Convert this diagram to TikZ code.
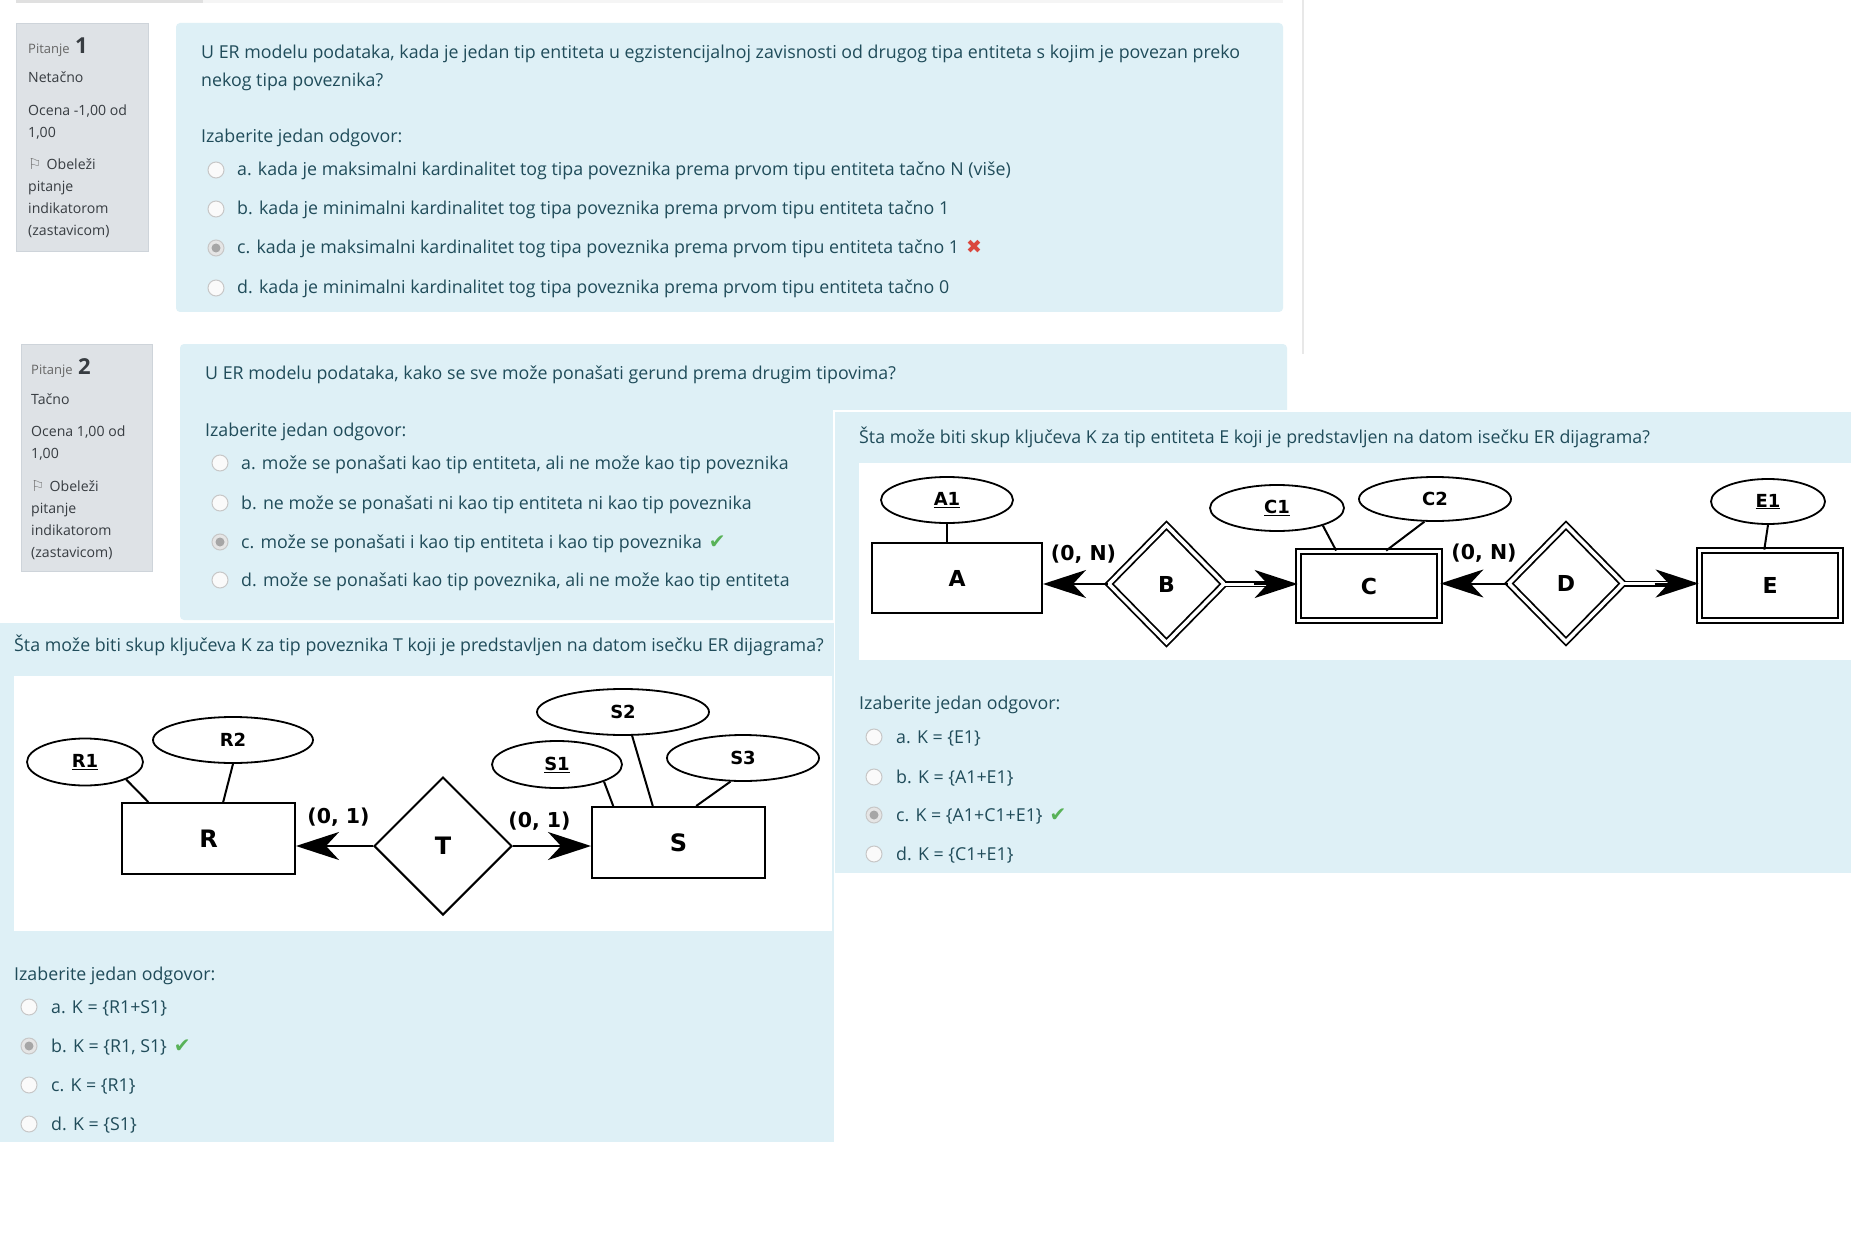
\documentclass[tikz,border=0pt]{standalone}
\usepackage{fontspec}
\setmainfont{Open Sans}
\newfontfamily\erfont{DejaVu Sans}
\newfontfamily\symfont{DejaVu Sans}
\usetikzlibrary{shapes.geometric,arrows.meta,calc}
\definecolor{qbg}{RGB}{222,240,246}
\definecolor{qtext}{RGB}{32,76,90}
\definecolor{infobg}{RGB}{222,226,230}
\definecolor{infoborder}{RGB}{206,212,218}
\definecolor{infotext}{RGB}{55,60,65}
\definecolor{okgreen}{RGB}{88,178,88}
\definecolor{badred}{RGB}{218,72,62}
\tikzset{
 qt/.style={anchor=base west, inner sep=0pt, text=qtext, font=\fontsize{17.8}{20}\selectfont},
 it/.style={anchor=base west, inner sep=0pt, text=infotext, font=\fontsize{14.1}{18}\selectfont},
 rbtn/.style={circle, draw=black!22, fill=black!2, line width=1pt, minimum size=16pt, inner sep=0pt},
 rbtnsel/.style={rbtn, fill=black!10, path picture={\fill[black!35] (path picture bounding box.center) circle[radius=4.5pt];}},
 ent/.style={draw, line width=2pt, fill=white, font=\erfont\bfseries\fontsize{22}{24}\selectfont, inner sep=0pt},
 went/.style={ent, double, double distance=3.5pt, line width=1.8pt},
 attr/.style={ellipse, draw, line width=1.8pt, fill=white, inner sep=0pt, font=\erfont\bfseries\fontsize{18}{20}\selectfont},
 rel/.style={diamond, draw, line width=2pt, fill=white, inner sep=0pt, font=\erfont\bfseries\fontsize{22}{24}\selectfont},
 wrel/.style={rel, double, double distance=3.5pt, line width=1.8pt},
 big/.style={font=\erfont\bfseries\fontsize{24}{26}\selectfont},
 card/.style={font=\erfont\bfseries\fontsize{20.5}{22}\selectfont, inner sep=0pt},
 conn/.style={line width=2pt},
 arr/.style={line width=2pt, -{Stealth[length=43pt,width=28pt,inset=13pt]}},
 dconn/.style={double, double distance=3pt, line width=1.5pt},
}
\newcommand{\qopt}[6]{\node[#5] (#1r) at (#2,#3) {}; \node[qt] (#1t) at (#4,#3+6) {#6};}
\newcommand{\okmark}{\hspace{7pt}{\symfont\color{okgreen}\fontsize{20}{20}\selectfont ✔}}
\newcommand{\badmark}{\hspace{7pt}{\symfont\color{badred}\fontsize{19}{19}\selectfont ✖}}
\newcommand{\flagmark}{{\symfont\color{black!55}\fontsize{15}{15}\selectfont ⚐}}
\begin{document}
\begin{tikzpicture}[x=1pt,y=-1pt]
\useasboundingbox (0,0) rectangle (1851,1238);
\fill[white] (0,0) rectangle (1851,1238);
% page decorations
\fill[black!12] (16,0) rectangle (203,3);
\fill[black!4] (203,0) rectangle (1283,3);
\fill[black!9] (1302,0) rectangle (1304,354);
% question boxes
\filldraw[fill=infobg, draw=infoborder] (16,23) rectangle (148,251);
\fill[qbg, rounded corners=4pt] (176,23) rectangle (1283,312);
\filldraw[fill=infobg, draw=infoborder] (21,344) rectangle (152,571);
\fill[qbg, rounded corners=4pt] (180,344) rectangle (1287,620);
\fill[qbg] (833,410) rectangle (1851,873);
\draw[white, line width=2pt] (834,873) -- (834,411) -- (1851,411);
\fill[white] (859,463) rectangle (1851,660);
\fill[qbg] (0,623) rectangle (834,1142);
\fill[white] (14,676) rectangle (832,931);

% ---------- Q1 sidebar
\node[it, text=black!60, font=\fontsize{13}{15}\selectfont] (p1) at (28,54) {Pitanje};
\node[anchor=base west, inner sep=0pt, text=infotext, font=\bfseries\fontsize{22}{24}\selectfont] (p1n) at ($(p1.base east)+(5,0)$) {1};
\node[it] (s1a) at (28,83) {Netačno};
\node[it] (s1b) at (28,116) {Ocena -1,00 od};
\node[it] (s1c) at (28,138) {1,00};
\node[it] (s1d) at (28,170) {\flagmark\hspace{5pt}Obeleži};
\node[it] (s1e) at (28,192) {pitanje};
\node[it] (s1f) at (28,214) {indikatorom};
\node[it] (s1g) at (28,236) {(zastavicom)};
% ---------- Q1 content
\node[qt] (q1a) at (201,59) {U ER modelu podataka, kada je jedan tip entiteta u egzistencijalnoj zavisnosti od drugog tipa entiteta s kojim je povezan preko};
\node[qt] (q1b) at (201,87) {nekog tipa poveznika?};
\node[qt] (q1c) at (201,143) {Izaberite jedan odgovor:};
\qopt{q1oa}{216}{170}{237}{rbtn}{a. kada je maksimalni kardinalitet tog tipa poveznika prema prvom tipu entiteta tačno N (više)}
\qopt{q1ob}{216}{209}{237}{rbtn}{b. kada je minimalni kardinalitet tog tipa poveznika prema prvom tipu entiteta tačno 1}
\qopt{q1oc}{216}{248}{237}{rbtnsel}{c. kada je maksimalni kardinalitet tog tipa poveznika prema prvom tipu entiteta tačno 1\badmark}
\qopt{q1od}{216}{288}{237}{rbtn}{d. kada je minimalni kardinalitet tog tipa poveznika prema prvom tipu entiteta tačno 0}

% ---------- Q2 sidebar
\node[it, text=black!60, font=\fontsize{13}{15}\selectfont] (p2) at (31,374) {Pitanje};
\node[anchor=base west, inner sep=0pt, text=infotext, font=\bfseries\fontsize{22}{24}\selectfont] (p2n) at ($(p2.base east)+(5,0)$) {2};
\node[it] (s2a) at (31,404) {Tačno};
\node[it] (s2b) at (31,436) {Ocena 1,00 od};
\node[it] (s2c) at (31,458) {1,00};
\node[it] (s2d) at (31,491) {\flagmark\hspace{5pt}Obeleži};
\node[it] (s2e) at (31,513) {pitanje};
\node[it] (s2f) at (31,535) {indikatorom};
\node[it] (s2g) at (31,557) {(zastavicom)};
% ---------- Q2 content
\node[qt] (q2a) at (205,379) {U ER modelu podataka, kako se sve može ponašati gerund prema drugim tipovima?};
\node[qt] (q2c) at (205,436) {Izaberite jedan odgovor:};
\qopt{q2oa}{220}{463}{241}{rbtn}{a. može se ponašati kao tip entiteta, ali ne može kao tip poveznika}
\qopt{q2ob}{220}{503}{241}{rbtn}{b. ne može se ponašati ni kao tip entiteta ni kao tip poveznika}
\qopt{q2oc}{220}{542}{241}{rbtnsel}{c. može se ponašati i kao tip entiteta i kao tip poveznika\okmark}
\qopt{q2od}{220}{580}{241}{rbtn}{d. može se ponašati kao tip poveznika, ali ne može kao tip entiteta}

% ---------- right panel
\node[qt] (q3a) at (859,443) {Šta može biti skup ključeva K za tip entiteta E koji je predstavljen na datom isečku ER dijagrama?};
\node[ent, minimum width=170pt, minimum height=70pt] (A) at (957,578) {A};
\node[attr, minimum width=132pt, minimum height=46pt] (A1) at (947,500) {\underline{A1}};
\node[wrel, minimum width=116pt, minimum height=118pt] (B) at (1166.5,584) {B};
\node[went, minimum width=141pt, minimum height=69pt] (C) at (1369,586) {C};
\node[attr, minimum width=134pt, minimum height=46pt] (C1) at (1277,508) {\underline{C1}};
\node[attr, minimum width=152pt, minimum height=44pt] (C2) at (1435,499) {C2};
\node[wrel, minimum width=115pt, minimum height=117pt] (D) at (1566,583.5) {D};
\node[went, minimum width=141pt, minimum height=70pt] (E) at (1770,585.5) {E};
\node[attr, minimum width=114pt, minimum height=45pt] (E1) at (1768,501.5) {\underline{E1}};
\draw[conn] (A1.south) -- (A1.south |- A.north);
\draw[conn] (C1.-21) -- ($(C.north west)!0.27!(C.north east)$);
\draw[conn] (C2.-115) -- ($(C.north west)!0.62!(C.north east)$);
\draw[conn] (E1.south) -- ($(E.north west)!0.46!(E.north east)$);
\draw[arr] (B.west) -- (B.west -| A.east);
\draw[dconn] (B.east) -- ($(B.east -| C.west)+(-30,0)$);
\draw[arr] ($(B.east -| C.west)+(-44,0)$) -- (B.east -| C.west);
\draw[arr] (D.west) -- (D.west -| C.east);
\draw[dconn] (D.east) -- ($(D.east -| E.west)+(-30,0)$);
\draw[arr] ($(D.east -| E.west)+(-44,0)$) -- (D.east -| E.west);
\node[card] (cAB) at (1083.5,554) {(0, N)};
\node[card] (cCD) at (1484,553) {(0, N)};
\node[qt] (q3c) at (859,709) {Izaberite jedan odgovor:};
\qopt{q3oa}{874}{737}{896}{rbtn}{a. K = \{E1\}}
\qopt{q3ob}{874}{777}{896}{rbtn}{b. K = \{A1+E1\}}
\qopt{q3oc}{874}{815}{896}{rbtnsel}{c. K = \{A1+C1+E1\}\okmark}
\qopt{q3od}{874}{854}{896}{rbtn}{d. K = \{C1+E1\}}

% ---------- left panel
\node[qt] (q4a) at (14,651) {Šta može biti skup ključeva K za tip poveznika T koji je predstavljen na datom isečku ER dijagrama?};
\node[ent, big, minimum width=173pt, minimum height=71pt] (R) at (208.5,838.5) {R};
\node[attr, minimum width=116pt, minimum height=47pt] (R1) at (85,762) {\underline{R1}};
\node[attr, minimum width=160pt, minimum height=46pt] (R2) at (233,740) {R2};
\node[rel, big, minimum width=138pt, minimum height=138pt] (T) at (443,846) {T};
\node[ent, big, minimum width=173pt, minimum height=71pt] (S) at (678.5,842.5) {S};
\node[attr, minimum width=130pt, minimum height=47pt] (S1) at (557,764.5) {\underline{S1}};
\node[attr, minimum width=172pt, minimum height=46pt] (S2) at (623,712) {S2};
\node[attr, minimum width=152pt, minimum height=46pt] (S3) at (743,758) {S3};
\draw[conn] (R1.-23) -- ($(R.north west)!0.156!(R.north east)$);
\draw[conn] (R2.south) -- ($(R.north west)!0.584!(R.north east)$);
\draw[conn] (S1.-20) -- ($(S.north west)!0.127!(S.north east)$);
\draw[conn] (S2.-69) -- ($(S.north west)!0.353!(S.north east)$);
\draw[conn] (S3.-118) -- ($(S.north west)!0.601!(S.north east)$);
\draw[arr] (T.west) -- (T.west -| R.east);
\draw[arr] (T.east) -- (T.east -| S.west);
\node[card] (cTR) at (338.5,817) {(0, 1)};
\node[card] (cTS) at (539.5,821) {(0, 1)};
\node[qt] (q4c) at (14,980) {Izaberite jedan odgovor:};
\qopt{q4oa}{29}{1007}{51}{rbtn}{a. K = \{R1+S1\}}
\qopt{q4ob}{29}{1046}{51}{rbtnsel}{b. K = \{R1, S1\}\okmark}
\qopt{q4oc}{29}{1085}{51}{rbtn}{c. K = \{R1\}}
\qopt{q4od}{29}{1124}{51}{rbtn}{d. K = \{S1\}}
\end{tikzpicture}
\end{document}
